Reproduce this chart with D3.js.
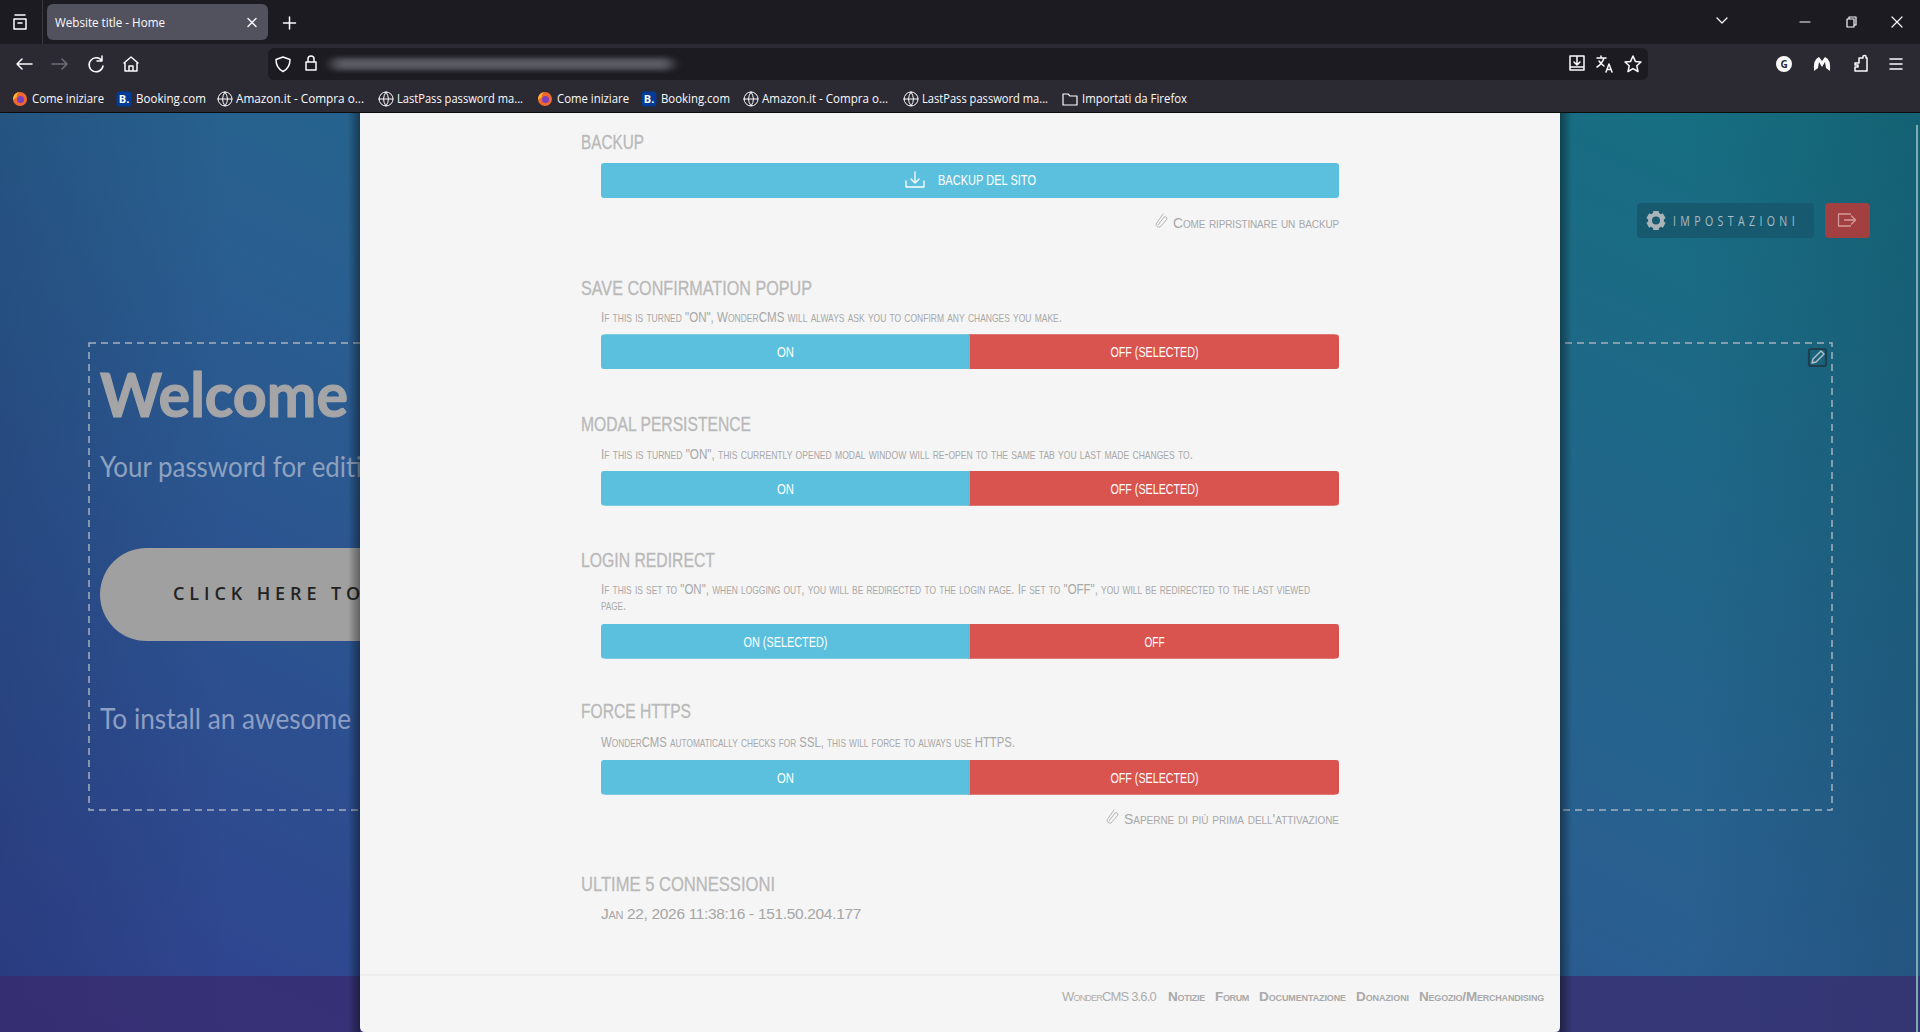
<!DOCTYPE html>
<html><head><meta charset="utf-8"><title>WonderCMS settings</title>
<script src="https://cdn.jsdelivr.net/npm/d3@7/dist/d3.min.js"></script>
<style>html,body{margin:0;padding:0;background:#1c1b22;overflow:hidden}svg{display:block}</style>
</head><body><svg id="page" width="1920" height="1032"></svg>
<script>
// ---------- content ----------
const tabTitle = "Website title - Home";
const bookmarkLabels = ["Come iniziare","Booking.com","Amazon.it - Compra o...","LastPass password ma...","Come iniziare","Booking.com","Amazon.it - Compra o...","LastPass password ma...","Importati da Firefox"];
const bookmarkKinds = ["firefox","booking","globe","globe","firefox","booking","globe","globe","folder"];
const sectionTitles = ["BACKUP","SAVE CONFIRMATION POPUP","MODAL PERSISTENCE","LOGIN REDIRECT","FORCE HTTPS","ULTIME 5 CONNESSIONI"];
const sectionNotes = [
  'If this is turned "ON", WonderCMS will always ask you to confirm any changes you make.',
  'If this is turned "ON", this currently opened modal window will re-open to the same tab you last made changes to.',
  'If this is set to "ON", when logging out, you will be redirected to the login page. If set to "OFF", you will be redirected to the last viewed',
  'page.',
  'WonderCMS automatically checks for SSL, this will force to always use HTTPS.'];
const toggleOptions = ["on","off"];
const toggleLabels = [["ON","OFF (SELECTED)"],["ON","OFF (SELECTED)"],["ON (SELECTED)","OFF"],["ON","OFF (SELECTED)"]];
const backupLabel = "BACKUP DEL SITO";
const helpLinks = ["Come ripristinare un backup","Saperne di più prima dell'attivazione"];
const lastLogin = "Jan 22, 2026 11:38:16 - 151.50.204.177";
const footerVersion = "WonderCMS 3.6.0";
const footerLinks = ["Notizie","Forum","Documentazione","Donazioni","Negozio/Merchandising"];
const heroLines = ["Welcome","Your password for editi","To install an awesome"];
const heroButton = "CLICK HERE TO";
const settingsLabel = "IMPOSTAZIONI";

// ---------- layout ----------
const bookmarkIconX = [20,124,225,386,545,649,751,911,1070];
const bookmarkTextX = [[32,104],[136,206],[236,364],[397,523],[557,629],[661,730],[762,888],[922,1048],[1082,1187]];
const titleY = [149,295,431,567,718,891], titleX = [[581,644],[581,812],[581,751],[581,715],[581,691],[581,775]];
const noteY = [321.5,458.5,593.5,609.5,746.5], noteX = [[601,1062],[601,1193],[601,1310],[601,626],[601,1015]];
const toggleTop = [334.5,471,624,760];
const labelSpan = {"ON":17,"OFF":20,"OFF (SELECTED)":88,"ON (SELECTED)":84};
const linkY = [228,824], linkX = [[1173,1339],[1124,1339]], linkIconX = [1161,1112], linkIconY = [220,816];
const footerX = [[1168,1205],[1215,1249],[1259,1346],[1356,1409],[1419,1544]];
const toggleX = d3.scaleBand().domain(toggleOptions).range([601,1339]);
const narrow = "'Liberation Sans Narrow','Liberation Sans',sans-serif";

const svg = d3.select("#page");
const defs = svg.append("defs");
const bg = defs.append("linearGradient").attr("id","bg").attr("x1",0).attr("y1",1).attr("x2",1).attr("y2",0);
[[0,"#30408f"],[.5,"#295f90"],[1,"#14707f"]].forEach(s=>bg.append("stop").attr("offset",s[0]).attr("stop-color",s[1]));
const vig = defs.append("linearGradient").attr("id","vig");
[[0,.18],[.12,0],[.88,0],[1,.18]].forEach(s=>vig.append("stop").attr("offset",s[0]).attr("stop-color","#10203a").attr("stop-opacity",s[1]));
const shL = defs.append("linearGradient").attr("id","shL");
[[0,0],[1,.4]].forEach(s=>shL.append("stop").attr("offset",s[0]).attr("stop-color","#000").attr("stop-opacity",s[1]));
const shR = defs.append("linearGradient").attr("id","shR");
[[0,.4],[1,0]].forEach(s=>shR.append("stop").attr("offset",s[0]).attr("stop-color","#000").attr("stop-opacity",s[1]));
defs.append("filter").attr("id","blur").attr("x","-10%").attr("y","-200%").attr("width","120%").attr("height","500%")
  .append("feGaussianBlur").attr("stdDeviation","6 2.5");

const rect=(g,x,y,w,h,fill,r)=>g.append("rect").attr("x",x).attr("y",y).attr("width",w).attr("height",h).attr("fill",fill).attr("rx",r||0);
const text=(g,s,x,y,o={})=>{
  const t=g.append("text").text(s).attr("x",x).attr("y",y).attr("fill",o.fill||"#fff")
   .attr("font-family",o.font||narrow)
   .attr("font-size",o.size||13).attr("font-weight",o.weight||400).attr("text-anchor",o.anchor||"start");
  if(o.caps)t.style("font-variant","small-caps");
  if(o.spacing)t.style("letter-spacing",o.spacing+"px");
  if(o.len){t.attr("textLength",o.len).attr("lengthAdjust","spacingAndGlyphs");}
  if(o.fit){const n=t.node(), w=n.getComputedTextLength(); t.style("letter-spacing",((o.fit-w)/s.length)+"px");}
  if(o.bold)t.attr("stroke",o.fill).attr("stroke-width",o.bold);
  return t;};
const stroke=(g,d,x,y,c,w)=>g.append("path").attr("d",d).attr("transform",`translate(${x},${y})`).attr("fill","none").attr("stroke",c||"#fbfbfe").attr("stroke-width",w||1.5).attr("stroke-linecap","round").attr("stroke-linejoin","round");
const solid=(g,d,x,y,c)=>g.append("path").attr("d",d).attr("transform",`translate(${x},${y})`).attr("fill",c);

// ---------- page behind the modal ----------
const back=svg.append("g");
rect(back,0,112,1920,920,"url(#bg)");
rect(back,0,112,1920,920,"url(#vig)");
rect(back,0,976,1920,56,"#3a2a6e").attr("opacity",.72);
rect(back,1916,125,2,907,"#7fa9b3");
back.append("rect").attr("x",89).attr("y",343).attr("width",1743).attr("height",467)
  .attr("fill","none").attr("stroke","#a7b0bd").attr("stroke-width",1.5).attr("stroke-dasharray","7 5");
const heroFont="Lato,'Open Sans',sans-serif";
text(back,heroLines[0],100,417,{font:heroFont,size:62,weight:700,fill:"#a5a5a8",len:248,bold:1.2});
text(back,heroLines[1],100,477,{font:heroFont,size:29,fill:"#8ea2c0",len:262});
rect(back,100,548,400,93,"#a0a0a1",46.5);
text(back,heroButton,173,600,{font:"'Open Sans',sans-serif",size:18,weight:600,fill:"#222",spacing:4.9});
text(back,heroLines[2],100,729,{font:heroFont,size:29,fill:"#8d9fc4",len:251});
rect(back,1637,203,177,35,"#175a70",4);
rect(back,1825,203,45,35,"#a23f40",4);
const gear=back.append("g").attr("transform","translate(1656,220.5)");
d3.range(6).forEach(i=>gear.append("rect").attr("x",-2.8).attr("y",-9.5).attr("width",5.6).attr("height",5).attr("fill","#a9b3b8").attr("transform",`rotate(${i*60})`));
gear.append("circle").attr("r",6).attr("fill","none").attr("stroke","#a9b3b8").attr("stroke-width",4);
text(back,settingsLabel,1673,226,{font:"'Open Sans',sans-serif",size:14.5,fill:"#a9bcc4",spacing:6,len:126});
stroke(back,"M4 -6H-8V6H4M-2 0H9M5 -4L9 0L5 4",1846.5,220,"#d69a9a",1.3);
rect(back,1809,349,17,17,"none",2).attr("stroke","#1f3f4f").attr("stroke-width",2.2);
stroke(back,"M-5 5L-4 1L4 -7L7 -4L-1 4Z",1817,358,"#b7c0c5",1.4);

// ---------- modal ----------
const modal=svg.append("g");
rect(modal,348,113,12,919,"url(#shL)");
rect(modal,1560,113,12,919,"url(#shR)");
modal.append("path").attr("d","M360 113H1560V1027Q1560 1032 1555 1032H365Q360 1032 360 1027Z").attr("fill","#f5f5f5");
modal.selectAll("text.title").data(sectionTitles).join("text").attr("class","title")
  .text(d=>d).attr("x",(d,i)=>titleX[i][0]).attr("y",(d,i)=>titleY[i]).attr("textLength",(d,i)=>titleX[i][1]-titleX[i][0]).attr("lengthAdjust","spacingAndGlyphs")
  .attr("fill","#b9b9b9").attr("stroke","#b9b9b9").attr("stroke-width",.3).attr("font-size",20).attr("font-family",narrow);
modal.selectAll("text.note").data(sectionNotes).join("text").attr("class","note")
  .text(d=>d).attr("x",(d,i)=>noteX[i][0]).attr("y",(d,i)=>noteY[i]).attr("textLength",(d,i)=>noteX[i][1]-noteX[i][0]).attr("lengthAdjust","spacingAndGlyphs")
  .attr("fill","#a8a8a8").attr("font-size",15).style("font-variant","small-caps").attr("font-family",narrow);
// backup button
rect(modal,601,163,738,35,"#5bc0de",3);
stroke(modal,"M-9 1V7H9V1M0 -8V3M-4 -1L0 3L4 -1",915,180,"#fff",1.3);
text(modal,backupLabel,938,185,{size:14.5,len:98});
// toggles
const toggles=modal.selectAll("g.toggle").data(toggleLabels).join("g").attr("class","toggle").attr("transform",(d,i)=>`translate(0,${toggleTop[i]})`);
toggles.append("rect").attr("x",toggleX("on")).attr("width",toggleX.bandwidth()+4).attr("height",34.5).attr("rx",3).attr("fill","#5bc0de");
toggles.append("rect").attr("x",toggleX("off")-4).attr("width",toggleX.bandwidth()+4).attr("height",34.5).attr("rx",3).attr("fill","#d9534f");
toggles.append("rect").attr("x",toggleX("on")+4).attr("width",toggleX.bandwidth()-4).attr("height",34.5).attr("fill","#5bc0de");
toggles.append("rect").attr("x",toggleX("off")).attr("width",toggleX.bandwidth()-4).attr("height",34.5).attr("fill","#d9534f");
toggles.each(function(d){const g=d3.select(this);
  d.forEach((label,k)=>{g.append("text").text(label)
    .attr("x",toggleX(toggleOptions[k])+toggleX.bandwidth()/2-labelSpan[label]/2).attr("y",22.5)
    .attr("textLength",labelSpan[label]).attr("lengthAdjust","spacingAndGlyphs")
    .attr("fill","#fff").attr("font-size",14.5).attr("font-family",narrow);});});
// help links
helpLinks.forEach((s,i)=>{
  text(modal,s,linkX[i][0],linkY[i],{size:14,fill:"#a8a8a8",caps:true,fit:linkX[i][1]-linkX[i][0]});
  stroke(modal,"M-3 5L3 -3A2 2 0 0 1 6 -1L-1 7A3 3 0 0 1 -5 4L2 -6",linkIconX[i],linkIconY[i],"#b5b5b5",1);
});
text(modal,lastLogin,601,919,{size:15.5,fill:"#a6a6a6",caps:true,fit:260});
rect(modal,360,974.5,1200,1,"#e6e6e6");
const footCol="#a9a9a9";
text(modal,footerVersion,1062,1001,{size:13,fill:"#adadad",caps:true,fit:94});
footerLinks.forEach((s,i)=>text(modal,s,footerX[i][0],1001,{size:13.5,weight:700,fill:footCol,caps:true,fit:footerX[i][1]-footerX[i][0]}));

// ---------- browser chrome ----------
const chrome=svg.append("g");
rect(chrome,0,0,1920,44,"#1c1b22");
rect(chrome,0,44,1920,68,"#2b2a33");
rect(chrome,0,112,1920,1,"#0c0c0d");
rect(chrome,42,0,1,44,"#3a3944");
rect(chrome,47,4,221,36,"#52525e",6);
const uiFont="'Open Sans','Noto Sans',sans-serif";
text(chrome,tabTitle,55,27,{font:uiFont,size:12.5,fill:"#fbfbfe",len:110});
stroke(chrome,"M-4 -4L4 4M4 -4L-4 4",252,22.5,"#fbfbfe",1.4);
stroke(chrome,"M-6 0H6M0 -6V6",289.5,23,"#fbfbfe",1.5);
stroke(chrome,"M-6 -3H6V7H-6ZM-5 -7H5M-2 1H2",20,22,"#fbfbfe",1.5);
stroke(chrome,"M8 0H-7M-2 -5L-7 0L-2 5",24,64);
stroke(chrome,"M-8 0H7M2 -5L7 0L2 5",60,64,"#6f6e78");
stroke(chrome,"M6 -3A7 7 0 1 0 7 2M6 -8V-3H1",96,64);
stroke(chrome,"M-7 -1L0 -7L7 -1M-6 -1V7H6V-1M-2 7V2H2V7",131,64);
rect(chrome,268,48,1380,32,"#1c1b22",6);
stroke(chrome,"M0 -7L7 -4.5Q7 4 0 7.5Q-7 4 -7 -4.5Z",283,64);
stroke(chrome,"M-5 -1H5V7H-5ZM-3 -1V-4A3 3 0 0 1 3 -4V-1",311,63);
rect(chrome,332,58,340,12,"#6a6a72",4).attr("filter","url(#blur)").attr("opacity",.8);
stroke(chrome,"M-7 -7H7V7H-7ZM-7 4H7M-3 -1L0 2L3 -1M0 -6V2",1577,63);
stroke(chrome,"M-8 -6H1M-4 -8V-6M-1 -6Q-3 0 -8 3M-6 -3Q-4 0 -1 2M1 8L4 0L7 8M2 5.5H6",1605,64);
stroke(chrome,"M0 -8L2.4 -2.6L8 -2L3.8 1.8L5 7.5L0 4.6L-5 7.5L-3.8 1.8L-8 -2L-2.4 -2.6Z",1633,64);
stroke(chrome,"M-5 -4L0 1L5 -4",1722,22,"#fbfbfe",1.3);
stroke(chrome,"M-5 0H5",1805,22,"#fbfbfe",1.2);
stroke(chrome,"M-4 -3H3V5H-4ZM-2 -3V-5H5V3H3",1851,22,"#fbfbfe",1.2);
stroke(chrome,"M-5 -5L5 5M5 -5L-5 5",1897,22,"#fbfbfe",1.2);
chrome.append("circle").attr("cx",1784).attr("cy",64).attr("r",8).attr("fill","#fbfbfe");
text(chrome,"G",1784,68,{font:uiFont,size:10,weight:700,fill:"#2b2a33",anchor:"middle"});
solid(chrome,"M-8 7Q-9 -5 -3 -7L0 -3L3 -7Q9 -5 8 7L4 4L3 -2L0 3L-3 -2L-4 4Z",1822,64,"#fbfbfe");
stroke(chrome,"M-6 -1H-2V-6H2V-8Q3.5 -9 5 -8V-6H6V7H-6V3H-3V1H-6Z",1861,64);
stroke(chrome,"M-6 -5H6M-6 0H6M-6 5H6",1896,64);
// bookmarks
bookmarkLabels.forEach((s,i)=>{
  text(chrome,s,bookmarkTextX[i][0],103,{font:uiFont,size:12,fill:"#fbfbfe",len:bookmarkTextX[i][1]-bookmarkTextX[i][0]});
  const x=bookmarkIconX[i], k=bookmarkKinds[i];
  if(k==="firefox"){chrome.append("circle").attr("cx",x).attr("cy",99).attr("r",7).attr("fill","#f0682e");
    chrome.append("circle").attr("cx",x+.5).attr("cy",99.5).attr("r",3.5).attr("fill","#7b3fbf");
    solid(chrome,"M-7 1Q-7 -6 -1 -7Q-4 -4 -3 -2Z",x,99,"#ffb02e");}
  if(k==="booking"){rect(chrome,x-7.5,91.5,15,15,"#003b95",3);
    text(chrome,"B.",x,103,{font:uiFont,size:11,weight:700,fill:"#fff",anchor:"middle"});}
  if(k==="globe")stroke(chrome,"M-7 0A7 7 0 1 0 7 0A7 7 0 1 0 -7 0M-7 0H7M0 -7Q-5 0 0 7Q5 0 0 -7",x,99,"#fbfbfe",1);
  if(k==="folder")stroke(chrome,"M-7 -5H-2L0 -3H7V6H-7Z",x,99,"#fbfbfe",1.2);
});
</script></body></html>
